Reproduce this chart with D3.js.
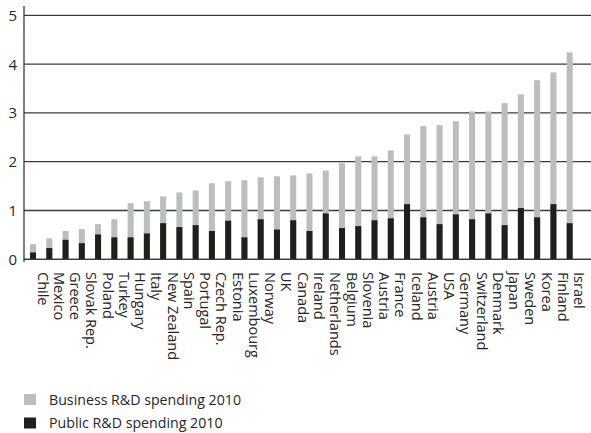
<!DOCTYPE html>
<html>
<head>
<meta charset="utf-8">
<script src="https://cdn.jsdelivr.net/npm/d3@7"></script>
<style>
  body { margin: 0; background: #fff; }
  svg text { font-family: "Open Sans", sans-serif; fill: #262626; }
</style>
</head>
<body>
<div id="chart"></div>
<script>
// R&D spending as % of GDP, 2010
var countries = ["Chile", "Mexico", "Greece", "Slovak Rep.", "Poland", "Turkey", "Hungary",
  "Italy", "New Zealand", "Spain", "Portugal", "Czech Rep.", "Estonia", "Luxembourg",
  "Norway", "UK", "Canada", "Ireland", "Netherlands", "Belgium", "Slovenia", "Austria",
  "France", "Iceland", "Austria", "USA", "Germany", "Switzerland", "Denmark", "Japan",
  "Sweden", "Korea", "Finland", "Israel"];
var publicSpend = [0.14, 0.23, 0.40, 0.33, 0.51, 0.45, 0.45, 0.53, 0.74, 0.66, 0.70, 0.58,
  0.79, 0.45, 0.82, 0.61, 0.80, 0.58, 0.94, 0.64, 0.68, 0.80, 0.84, 1.13, 0.86, 0.72,
  0.92, 0.82, 0.94, 0.70, 1.05, 0.86, 1.13, 0.74];
var totalSpend = [0.31, 0.43, 0.58, 0.62, 0.72, 0.82, 1.15, 1.19, 1.29, 1.37, 1.41, 1.56,
  1.60, 1.62, 1.68, 1.70, 1.72, 1.76, 1.82, 1.97, 2.11, 2.11, 2.23, 2.56, 2.73, 2.75,
  2.83, 3.03, 3.03, 3.20, 3.38, 3.67, 3.83, 4.24];
var yTicks = [0, 1, 2, 3, 4, 5];
var legendLabels = ["Business R&D spending 2010", "Public R&D spending 2010"];

var width = 591, height = 433;
var grey = "#bcbdbf", black = "#1f1f1d";

var svg = d3.select("#chart").append("svg")
    .attr("width", width)
    .attr("height", height);

var x = d3.scaleBand()
    .domain(d3.range(countries.length))
    .range([24.9, 577.8])
    .paddingInner(0.63)
    .paddingOuter(0.315);
var y = d3.scaleLinear()
    .domain([0, 5])
    .range([259.3, 15.3]);

// gridlines
svg.append("g").selectAll("line")
    .data(yTicks)
    .enter().append("line")
      .attr("x1", 24).attr("x2", width)
      .attr("y1", function(d) { return y(d); })
      .attr("y2", function(d) { return y(d); })
      .attr("stroke", "#3a3a3a")
      .attr("stroke-width", 1.3);

// y tick labels
svg.append("g").selectAll("text")
    .data(yTicks)
    .enter().append("text")
      .attr("x", 17).attr("y", function(d) { return y(d) + 5.5; })
      .attr("text-anchor", "end")
      .attr("font-size", 15)
      .text(function(d) { return d; });

// left axis
svg.append("line")
    .attr("x1", 24).attr("x2", 24)
    .attr("y1", 6).attr("y2", 262)
    .attr("stroke", "#3a3a3a").attr("stroke-width", 1.3);

// business (total) bars
svg.append("g").selectAll("rect")
    .data(totalSpend)
    .enter().append("rect")
      .attr("x", function(d, i) { return x(i); })
      .attr("width", x.bandwidth())
      .attr("y", function(d) { return y(d); })
      .attr("height", function(d) { return y(0) - y(d); })
      .attr("fill", grey);

// public bars
svg.append("g").selectAll("rect")
    .data(publicSpend)
    .enter().append("rect")
      .attr("x", function(d, i) { return x(i); })
      .attr("width", x.bandwidth())
      .attr("y", function(d) { return y(d); })
      .attr("height", function(d) { return y(0) - y(d); })
      .attr("fill", black);

// baseline on top
svg.append("line")
    .attr("x1", 24).attr("x2", width)
    .attr("y1", y(0)).attr("y2", y(0))
    .attr("stroke", "#3a3a3a").attr("stroke-width", 1.3);

// country labels
svg.append("g").selectAll("text")
    .data(countries)
    .enter().append("text")
      .attr("transform", function(d, i) {
        return "translate(" + (x(i) + x.bandwidth() / 2 + 4.5) + ",272) rotate(90)";
      })
      .attr("font-size", 14.5)
      .text(function(d) { return d; });

// legend
var legend = svg.append("g").selectAll("g")
    .data(legendLabels)
    .enter().append("g")
      .attr("transform", function(d, i) { return "translate(24," + (394 + i * 23.5) + ")"; });
legend.append("rect")
    .attr("width", 12).attr("height", 11)
    .attr("fill", function(d, i) { return i == 0 ? grey : black; });
legend.append("text")
    .attr("x", 25).attr("y", 10.5)
    .attr("font-size", 14.2)
    .text(function(d) { return d; });
</script>
</body>
</html>
